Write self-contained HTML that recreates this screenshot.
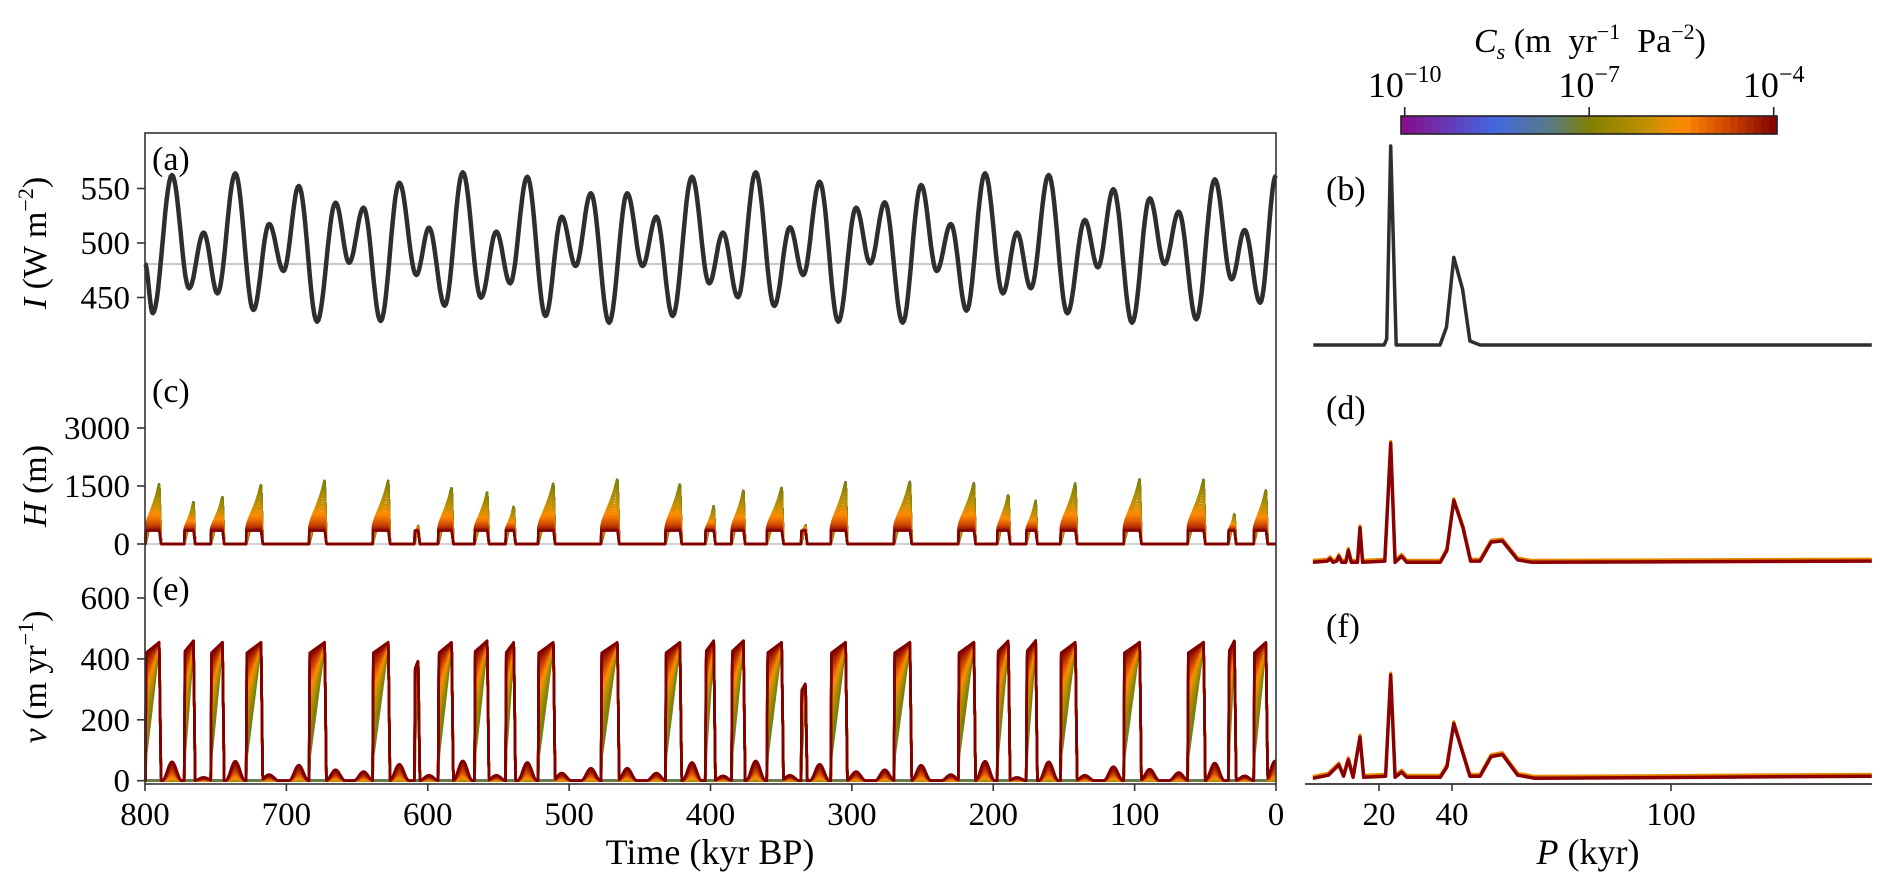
<!DOCTYPE html>
<html><head><meta charset="utf-8">
<style>
html,body{margin:0;padding:0;background:#fff;}
svg{display:block;font-family:"Liberation Serif",serif;}
</style></head>
<body>
<svg id="fig" width="1892" height="891" viewBox="0 0 1892 891" xmlns="http://www.w3.org/2000/svg">
  <rect x="0" y="0" width="1892" height="891" fill="#fff"/>
  <g id="plots"></g>
  <rect x="145" y="133" width="1131" height="651" fill="none" stroke="#333" stroke-width="1.6"/>
  <g id="ticks"></g>
  <text x="152" y="170" font-size="34">(a)</text>
  <text x="152" y="402" font-size="34">(c)</text>
  <text x="152" y="600" font-size="34">(e)</text>
  <text x="1326" y="200" font-size="34">(b)</text>
  <text x="1326" y="419" font-size="34">(d)</text>
  <text x="1326" y="637" font-size="34">(f)</text>
  <text transform="translate(46,243) rotate(-90)" text-anchor="middle" font-size="34"><tspan font-style="italic">I</tspan> (W m<tspan dy="-13" font-size="22">−2</tspan><tspan dy="13">)</tspan></text>
  <text transform="translate(46,486) rotate(-90)" text-anchor="middle" font-size="34"><tspan font-style="italic">H</tspan> (m)</text>
  <text transform="translate(46,677) rotate(-90)" text-anchor="middle" font-size="34"><tspan font-style="italic">v</tspan> (m yr<tspan dy="-13" font-size="22">−1</tspan><tspan dy="13">)</tspan></text>
  <text x="710" y="864" text-anchor="middle" font-size="36">Time (kyr BP)</text>
  <text x="1588" y="864" text-anchor="middle" font-size="36"><tspan font-style="italic">P</tspan> (kyr)</text>
  <g id="cbar"></g>
  <text x="1590" y="52" text-anchor="middle" font-size="34"><tspan font-style="italic">C</tspan><tspan font-style="italic" font-size="22" dy="7">s</tspan><tspan dy="-7" xml:space="preserve"> (m  yr</tspan><tspan dy="-13" font-size="22">−1</tspan><tspan dy="13" xml:space="preserve">  Pa</tspan><tspan dy="-13" font-size="22">−2</tspan><tspan dy="13">)</tspan></text>
</svg>
<script>
const insT = [800,794.5,780.9,768.8,758.5,748.7,736.1,723.3,712.2,702,691.2,678.3,665.2,655.6,645.4,633.3,620.1,608.1,599.1,588,575.2,562.3,551.5,541.7,529.6,516.7,505.2,495.4,484.6,471.7,458.9,448.1,438.3,426.8,413.1,400.9,391.2,380.6,368,354.9,343.8,334.4,322.8,309.6,297,287,276.7,264.1,251,240,230,218.9,205.8,193.2,183.2,173.4,160.8,147.6,135.2,126,115,101.8,89.3,78.8,68.8,56.4,43.3,31.4,22.2,11.2,0];
const insV = [481,435.5,562.4,458.4,509.5,453.8,563.9,438.5,517.4,474.3,552.3,427.8,537,481.9,532.4,428.4,555.3,470.6,514,442.5,564.9,449.8,510.4,463,560.8,433,524.1,478.9,545.6,426.9,545.6,478.9,524.1,433,560.8,463,509.5,450.2,564.9,442.2,514.4,470.6,556.2,427.8,532.4,481.3,537.3,426.9,553.2,474.3,517.4,437.9,563.9,453.8,509.5,458.4,562.4,435.5,521.1,477.7,549.3,426.9,541,480.7,528.7,430,558.4,466.7,511.9,445.2,562];
const insMean = 480.7;
const evStart = [799.7,772.2,753.4,728.4,683.9,639.0,609.4,592.6,566.9,545.0,521.9,477.4,431.9,403.6,385.1,360.1,335.9,314.9,270.2,224.7,197.1,176.6,152.4,107.7,62.5,33.6,15.7];
const evPeak = [789.9,765.7,745.2,717.9,672.9,627.9,606.8,583.1,557.9,539.1,511.1,465.8,421.6,397.7,376.7,349.6,332.8,304.4,258.9,213.7,189.3,170.0,141.9,96.4,51.2,29.4,7.1];
const evH = [1560,1086,1215,1534,1647,1647,483,1465,1345,983,1578,1690,1560,983,1379,1466,500,1613,1621,1578,1284,1112,1578,1681,1664,785,1405];
const evV = [455,460,455,455,455,455,395,455,460,455,455,455,455,460,460,455,320,455,455,455,460,460,455,455,455,460,455];
const bumpT = [780.9,758.5,736.1,712.2,691.2,665.2,645.4,620.1,599.1,575.2,551.5,529.6,505.2,484.6,458.9,438.3,413.1,391.2,368,343.8,322.8,297,276.7,251,230,205.8,183.2,160.8,135.2,115,89.3,68.8,43.3,22.2,0.6];
const bumpV = [62,11,64,20,51,36,30,54,18,65,18,60,25,41,41,25,60,16,65,18,54,30,36,51,20,64,11,62,18,46,38,27,58,16,65];
const specBP = [2.0,21.4,22.1,23.2,24.7,36.7,38.5,40.5,42.9,44.9,47.7,155];
const specBV = [0,0,0.03,1,0,0,0.09,0.44,0.28,0.02,0,0];
const specDP = [1.9,5.8,6.6,7.4,8.4,9.0,9.8,10.9,11.6,12.4,14.1,14.8,15.5,21.6,23.2,24.4,26.2,27.6,36.8,38.6,40.5,43.0,45.1,47.7,50.7,53.8,58.0,61.9,155];
const specDV = [0,0.01,0.03,0,0.01,0.05,0,0,0.10,0,0,0.29,0,0.01,1.0,0,0.05,0,0,0.10,0.52,0.29,0.01,0.01,0.17,0.18,0.02,0,0.01];
const specFP = [1.9,6.1,9.0,10.3,11.6,12.9,14.8,15.8,21.8,23.2,24.4,26.2,27.6,36.8,38.6,40.5,44.9,47.7,50.7,53.8,58.0,62.7,155];
const specFV = [0,0.03,0.13,0.02,0.18,0.01,0.40,0.01,0.02,1.0,0.01,0.06,0.01,0.01,0.11,0.53,0.02,0.02,0.21,0.23,0.03,0,0.02];
const tTicks = [800,700,600,500,400,300,200,100,0];
const iTicks = [450,500,550];
const hTicks = [0,1500,3000];
const vTicks = [0,200,400,600];
const pTicks = [20,40,100];
const cbTicks = [-10,-7,-4];

const NS = "http://www.w3.org/2000/svg";
const sx = t => 145 + (800 - t) * 1131 / 800;
const yI = v => 243 - (v - 500) * 1.09;
const yH = h => 544 - h * 0.03867;
const yV = v => 780.7 - v * 0.3045;
const px = p => 1306 + p * 3.65;
const yB = p => 345 - p * 199;
const yD = p => 562.3 - p * 119;
const yF = p => 778.3 - p * 103.3;
const cbx = e => 1404.7 + (e + 10) * (1773.7 - 1404.7) / 6;

function el(tag, attrs, parent) {
  const e = document.createElementNS(NS, tag);
  for (const k in attrs) e.setAttribute(k, attrs[k]);
  parent.appendChild(e);
  return e;
}
const plots = document.getElementById('plots');
const ticksG = document.getElementById('ticks');

const cstops = [[0,[138,10,138]],[0.25,[65,105,225]],[0.4,[90,122,130]],[0.5,[128,128,0]],[0.65,[192,144,0]],[0.75,[255,140,0]],[0.88,[200,64,0]],[1,[128,0,0]]];
function cmap(s) {
  for (let i = 1; i < cstops.length; i++) {
    if (s <= cstops[i][0]) {
      const a = cstops[i-1], b = cstops[i];
      const u = (s - a[0]) / (b[0] - a[0]);
      const c = a[1].map((v, k) => Math.round(v + (b[1][k] - v) * u));
      return `rgb(${c[0]},${c[1]},${c[2]})`;
    }
  }
  return 'rgb(128,0,0)';
}

const ml = el('line', {x1:145, x2:1276, y1:yI(insMean), y2:yI(insMean), stroke:'#c8c8c8', 'stroke-width':2}, plots);


const hz = el('line', {x1:145, x2:1276, y1:yH(0), y2:yH(0), stroke:'#d0d0d0', 'stroke-width':2}, plots);



let d = '';
for (let i = 0; i < insT.length - 1; i++) {
  const n = 14;
  for (let k = (i === 0 ? 0 : 1); k <= n; k++) {
    const u = k / n, w = (1 - Math.cos(Math.PI * u)) / 2;
    const t = insT[i] + (insT[i+1] - insT[i]) * u;
    const v = insV[i] + (insV[i+1] - insV[i]) * w;
    d += (d ? 'L' : 'M') + sx(t).toFixed(1) + ',' + yI(v).toFixed(1);
  }
}
const insPath = el('path', {d:d, fill:'none', stroke:'#2e2e2e', 'stroke-width':4.5, 'stroke-linejoin':'round'}, plots);



const NC = 50;
const DROP = 1.2;
function evFrac(t, i) {
  const ts = evStart[i], tp = evPeak[i];
  if (t > ts || t < tp - DROP) return null;
  if (t >= tp) return {frac:(ts - t) / (ts - tp), down:1, start:(ts - t)};
  return {frac:1, down:1 - (tp - t) / DROP, start:(ts - t)};
}
function Hs(t, s) {
  let h = 0;
  for (let i = 0; i < evStart.length; i++) {
    const f = evFrac(t, i); if (!f) continue;
    const Hp = evH[i];
    let cap = Hp;
    if (s > 0.5 && Hp > 345) cap = 345 + (Hp - 345) * Math.pow((1 - s) / 0.5, 1.6);
    const p = s < 0.5 ? 1 : 1 - 1.76 * (s - 0.5);
    let v = Math.min(cap, Hp * Math.pow(f.frac, p)) * f.down;
    h = Math.max(h, v);
  }
  return h;
}
function Vs(t, s) {
  if (s < 0.45) return 0;
  const q = (s - 0.45) / 0.55;
  let v = 0;
  for (let i = 0; i < evStart.length; i++) {
    const f = evFrac(t, i); if (!f) continue;
    const a = 0.92 * Math.pow(q, 0.55);
    let val = evV[i] * (a + (1 - a) * f.frac) * Math.min(1, f.start / 0.4) * f.down;
    v = Math.max(v, val);
  }
  for (let j = 0; j < bumpT.length; j++) {
    const dt = Math.abs(t - bumpT[j]);
    if (dt < 7) {
      const w = Math.pow(Math.cos(Math.PI * dt / 14), 2);
      v = Math.max(v, bumpV[j] * Math.pow(q, 2.5) * w);
    }
  }
  return v;
}
const STEP = 0.25;
for (let c = 0; c < NC; c++) {
  const s = c / (NC - 1);
  let dh = '', dv = '';
  for (let t = 800; t >= -0.001; t -= STEP) {
    const X = sx(t).toFixed(1);
    dh += (dh ? 'L' : 'M') + X + ',' + yH(Hs(t, s)).toFixed(1);
    dv += (dv ? 'L' : 'M') + X + ',' + yV(Vs(t, s)).toFixed(1);
  }
  const col = cmap(s);
  const ph = el('path', {d:dh, fill:'none', stroke:col, 'stroke-width':2.4, 'stroke-linejoin':'round'}, plots);
  
  
  const pv = el('path', {d:dv, fill:'none', stroke:col, 'stroke-width':2.6, 'stroke-linejoin':'round'}, plots);
  
  
}

function specLine(P, V, yf, color, w, name) {
  let dd = '';
  for (let i = 0; i < P.length; i++) dd += (i ? 'L' : 'M') + px(P[i]).toFixed(1) + ',' + yf(V[i]).toFixed(1);
  const p = el('path', {d:dd, fill:'none', stroke:color, 'stroke-width':w, 'stroke-linejoin':'round'}, plots);
  
  
}
specLine(specBP, specBV, yB, '#2e2e2e', 3.5, 'insolation-spectrum-line');
specLine(specDP, specDV, p => yD(p) - 2, '#e88a00', 3, 'thickness-spectrum-line-low-cs');
specLine(specDP, specDV, yD, '#8b0000', 3.5, 'thickness-spectrum-line');
specLine(specFP, specFV, p => yF(p) - 2, '#e88a00', 3, 'velocity-spectrum-line-low-cs');
specLine(specFP, specFV, yF, '#8b0000', 3.5, 'velocity-spectrum-line');

const pax = el('line', {x1:1305, x2:1872, y1:784, y2:784, stroke:'#333', 'stroke-width':1.8}, ticksG);


function yTick(y, label, name) {
  const l = el('line', {x1:137, x2:145, y1:y, y2:y, stroke:'#333', 'stroke-width':1.6}, ticksG);
  
  
  const tx = el('text', {x:130, y:y + 11, 'text-anchor':'end', 'font-size':33}, ticksG);
  tx.textContent = label;
  
  
}
iTicks.forEach(v => yTick(yI(v), String(v), 'insolation-y'));
hTicks.forEach(v => yTick(yH(v), String(v), 'thickness-y'));
vTicks.forEach(v => yTick(yV(v), String(v), 'velocity-y'));
tTicks.forEach(t => {
  const X = sx(t);
  const l = el('line', {x1:X, x2:X, y1:784, y2:791, stroke:'#333', 'stroke-width':1.6}, ticksG);
  
  
  const tx = el('text', {x:X, y:825, 'text-anchor':'middle', 'font-size':33}, ticksG);
  tx.textContent = String(t);
  
  
});
pTicks.forEach(p => {
  const X = px(p);
  const l = el('line', {x1:X, x2:X, y1:784, y2:791, stroke:'#333', 'stroke-width':1.6}, ticksG);
  
  
  const tx = el('text', {x:X, y:825, 'text-anchor':'middle', 'font-size':33}, ticksG);
  tx.textContent = String(p);
  
  
});

const cb = document.getElementById('cbar');
const NB = 48, cx0 = 1401, cx1 = 1777;
for (let i = 0; i < NB; i++) {
  const r = el('rect', {x:cx0 + (cx1 - cx0) * i / NB, y:116, width:(cx1 - cx0) / NB + 0.6, height:18, fill:cmap((i + 0.5) / NB)}, cb);
  
  
}
const cbf = el('rect', {x:cx0, y:116, width:cx1 - cx0, height:18, fill:'none', stroke:'#222', 'stroke-width':1.6}, cb);


cbTicks.forEach(e => {
  const X = cbx(e);
  const l = el('line', {x1:X, x2:X, y1:107, y2:116, stroke:'#222', 'stroke-width':1.6}, cb);
  
  
  const tx = el('text', {x:X, y:97, 'text-anchor':'middle', 'font-size':36}, cb);
  
  
  const a = document.createElementNS(NS, 'tspan'); a.textContent = '10'; tx.appendChild(a);
  const b = document.createElementNS(NS, 'tspan'); b.setAttribute('dy', '-15'); b.setAttribute('font-size', '24'); b.textContent = '−' + String(-e); tx.appendChild(b);
});
</script>
</body></html>
